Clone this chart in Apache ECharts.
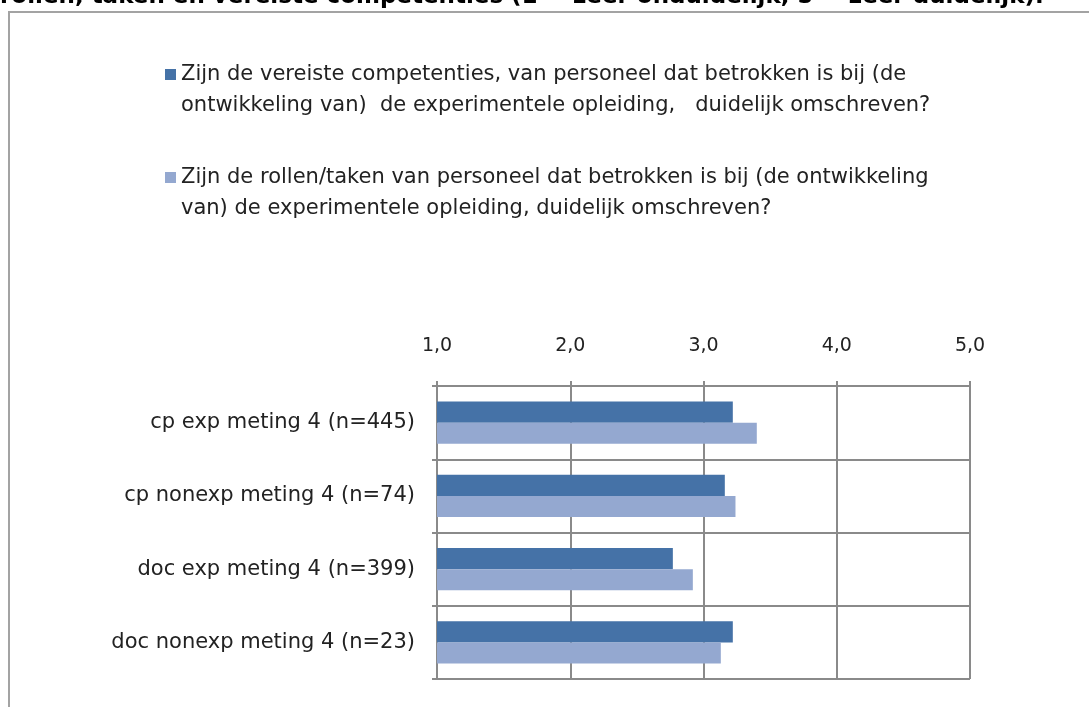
<!DOCTYPE html>
<html>
<head>
<meta charset="utf-8">
<script src="https://cdn.jsdelivr.net/npm/echarts@6/dist/echarts.min.js"></script>
<style>
  html, body { margin: 0; padding: 0; background: #fff; }
  #main { width: 1089px; height: 707px; }
</style>
</head>
<body>
<div id="main"></div>
<script>
// gegevens uit de grafiek
var categories = ['cp exp meting 4 (n=445)', 'cp nonexp meting 4 (n=74)', 'doc exp meting 4 (n=399)', 'doc nonexp meting 4 (n=23)'];
var seriesNames = [
  'Zijn de vereiste competenties, van personeel dat betrokken is bij (de\nontwikkeling van)  de experimentele opleiding,   duidelijk omschreven?',
  'Zijn de rollen/taken van personeel dat betrokken is bij (de ontwikkeling\nvan) de experimentele opleiding, duidelijk omschreven?'
];
var competenties = [3.22, 3.16, 2.77, 3.22];
var rollenTaken = [3.40, 3.24, 2.92, 3.13];
var titleText = 'rollen, taken en vereiste competenties (1 = zeer onduidelijk, 5 = zeer duidelijk).';

var font = '"DejaVu Sans", "Open Sans", sans-serif';
var gridColor = '#8a8a8a';

var chart = echarts.init(document.getElementById('main'));
chart.setOption({
  animation: false,
  textStyle: { fontFamily: font },
  color: ['#4572a7', '#94a8d0'],
  graphic: [
    {
      type: 'rect',
      shape: { x: 9, y: 12, width: 1200, height: 1000 },
      style: { fill: 'none', stroke: '#a3a3a3', lineWidth: 2 }
    },
    {
      type: 'text',
      left: 0,
      top: -14,
      style: {
        text: titleText,
        font: 'bold 23px "DejaVu Sans", sans-serif',
        fill: '#000'
      }
    }
  ],
  legend: {
    orient: 'vertical',
    left: 165,
    top: 59,
    padding: 0,
    itemGap: 41,
    itemWidth: 11,
    itemHeight: 42,
    icon: 'path://M0,0L11,0L11,11L0,11Z M0,42L0.01,42L0,42Z',
    textStyle: { fontSize: 21, lineHeight: 31, color: '#222' },
    selectedMode: false
  },
  grid: { left: 437, right: 119, top: 386, bottom: 28, containLabel: false },
  xAxis: {
    type: 'value',
    position: 'top',
    min: 1,
    max: 5,
    interval: 1,
    axisLine: { show: true, lineStyle: { color: gridColor, width: 2 } },
    axisTick: { show: true, length: 5, lineStyle: { color: gridColor, width: 2 } },
    splitLine: { show: true, lineStyle: { color: gridColor, width: 2 } },
    axisLabel: {
      margin: 30,
      fontSize: 19,
      color: '#222',
      formatter: function (v) { return v.toFixed(1).replace('.', ','); }
    }
  },
  yAxis: {
    type: 'category',
    data: categories,
    inverse: true,
    axisLine: { show: true, lineStyle: { color: gridColor, width: 2 } },
    axisTick: { show: true, length: 5, lineStyle: { color: gridColor, width: 2 } },
    splitLine: { show: true, lineStyle: { color: gridColor, width: 2 } },
    axisLabel: { margin: 22, fontSize: 21, color: '#222' }
  },
  series: [
    {
      name: seriesNames[0],
      type: 'bar',
      data: competenties,
      barGap: '0%',
      barCategoryGap: '42%'
    },
    {
      name: seriesNames[1],
      type: 'bar',
      data: rollenTaken,
      barGap: '0%',
      barCategoryGap: '42%'
    }
  ]
});
</script>
</body>
</html>
